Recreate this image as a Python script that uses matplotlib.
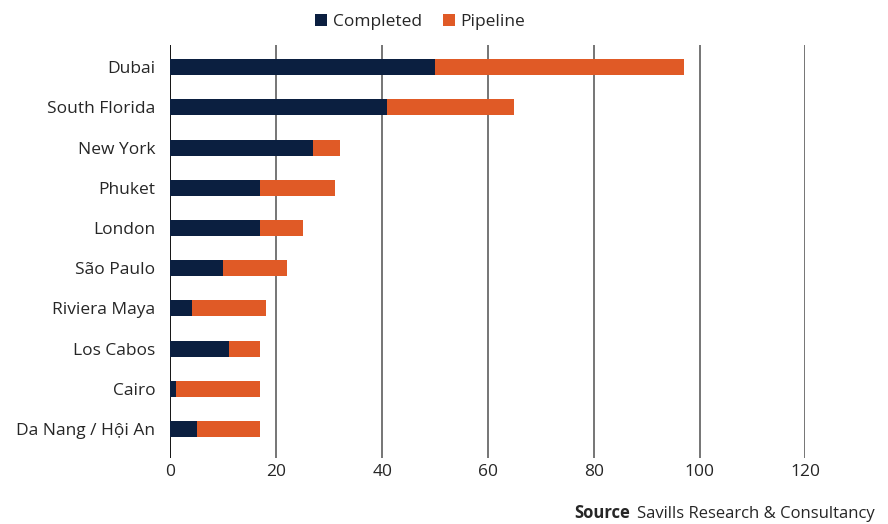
import matplotlib.pyplot as plt
import numpy as np

cities = ['Dubai', 'South Florida', 'New York', 'Phuket', 'London', 'São Paulo',
          'Riviera Maya', 'Los Cabos', 'Cairo', 'Da Nang / Hội An']
completed = [50, 41, 27, 17, 17, 10, 4, 11, 1, 5]
pipeline = [47, 24, 5, 14, 8, 12, 14, 6, 16, 12]
ticks = [0, 20, 40, 60, 80, 100, 120]

navy = '#0b1f40'
orange = '#e05a26'
txt = '#262626'

plt.rcParams['font.family'] = ['Open Sans', 'DejaVu Sans']

fig = plt.figure(figsize=(8.88, 5.24), dpi=100)
ax = fig.add_axes([0.192, 0.126, 0.715, 0.788])

y = np.arange(len(cities))
ax.barh(y, completed, height=0.4, color=navy, label='Completed', zorder=3)
ax.barh(y, pipeline, left=completed, height=0.4, color=orange, label='Pipeline', zorder=3)

# vertical gridlines, the zero line darker
for t in ticks:
    ax.axvline(t, color='black' if t == 0 else '#6a6a6a', lw=1.3, zorder=1)

ax.set_xlim(0, 120)
ax.set_ylim(len(cities) - 1 + 0.72, -0.55)
ax.set_xticks(ticks)
ax.set_yticks(y)
ax.set_yticklabels(cities)
ax.tick_params(length=0, labelsize=12.5, colors=txt)
ax.tick_params(axis='x', pad=4)
ax.tick_params(axis='y', pad=11)
for s in ax.spines.values():
    s.set_visible(False)

fig.legend(loc='upper center', bbox_to_anchor=(0.473, 1.003), ncol=2, frameon=False,
           fontsize=12.5, handlelength=0.7, handleheight=0.7, handletextpad=0.3,
           columnspacing=1.2, labelcolor=txt)

fig.text(0.647, 0.012, 'Source', fontsize=12, fontweight='bold', color=txt)
fig.text(0.717, 0.012, 'Savills Research & Consultancy', fontsize=12, color=txt)

fig.savefig('out.png')
